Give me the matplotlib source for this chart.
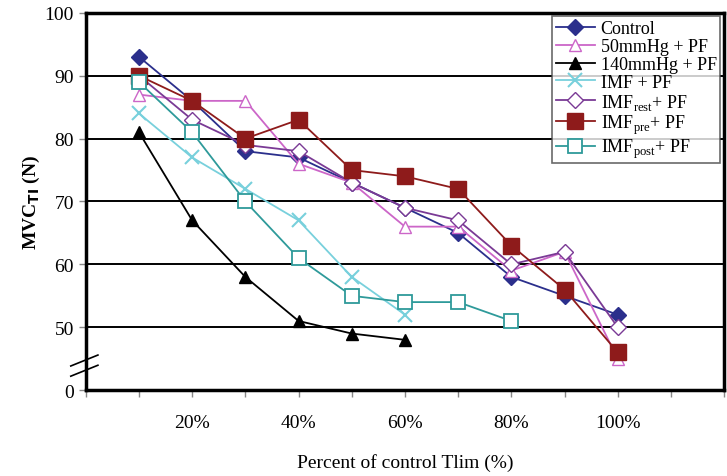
import matplotlib.pyplot as plt
import numpy as np

plt.rcParams['font.family'] = ['Liberation Serif', 'DejaVu Serif']
plt.rcParams['mathtext.fontset'] = 'custom'
plt.rcParams['mathtext.rm'] = 'Liberation Serif'

# percent of control Tlim, as category index (1 -> 10%)
pct = [1, 2, 3, 4, 5, 6, 7, 8, 9, 10]

control = [93, 86, 78, 77, 73, 69, 65, 58, 55, 52]
mmhg50 = [87, 86, 86, 76, 73, 66, 66, 59, 62, 45]
mmhg140 = [81, 67, 58, 51, 49, 48]
imf = [84, 77, 72, 67, 58, 52]
imf_rest = [90, 83, 79, 78, 73, 69, 67, 60, 62, 50]
imf_pre = [90, 86, 80, 83, 75, 74, 72, 63, 56, 46]
imf_post = [89, 81, 70, 61, 55, 54, 54, 51]

xtick_labels = ['20%', '40%', '60%', '80%', '100%']
ytick_labels = ['0', '50', '60', '70', '80', '90', '100']

fig = plt.figure(figsize=(7.27, 4.77), dpi=100)
ax = fig.add_axes([0.118, 0.18, 0.878, 0.791])

for v in [50, 60, 70, 80, 90]:
    ax.axhline(v, color='black', lw=1.4, zorder=1)

ax.plot(pct, control, '-D', color='#2B2F8C', mfc='#2B2F8C', ms=8, lw=1.3, label='Control')
ax.plot(pct, mmhg50, '-^', color='#CC66C8', mfc='white', ms=9, lw=1.3, label='50mmHg + PF')
ax.plot(pct[:len(mmhg140)], mmhg140, '-^', color='black', mfc='black', ms=9, lw=1.3,
        label='140mmHg + PF')
ax.plot(pct[:len(imf)], imf, '-x', color='#78D0DC', ms=10, mew=1.5, lw=1.3, label='IMF + PF')
ax.plot(pct, imf_rest, '-D', color='#7A3A95', mfc='white', ms=8, lw=1.3,
        label=r'IMF$_{\rm rest}$+ PF')
ax.plot(pct, imf_pre, '-s', color='#8E1B1B', mfc='#8E1B1B', ms=11, lw=1.3,
        label=r'IMF$_{\rm pre}$+ PF')
ax.plot(pct[:len(imf_post)], imf_post, '-s', color='#2E9A9A', mfc='white', ms=10, mew=1.3,
        lw=1.3, label=r'IMF$_{\rm post}$+ PF')

ax.set_xlim(0, 12)
ax.set_ylim(40, 100)
ax.set_xticks(range(0, 13))
ax.set_xticklabels(['', '', xtick_labels[0], '', xtick_labels[1], '', xtick_labels[2], '',
                    xtick_labels[3], '', xtick_labels[4], '', ''])
ax.set_yticks([40, 50, 60, 70, 80, 90, 100])
ax.set_yticklabels(ytick_labels)
ax.tick_params(axis='x', length=5, width=1, color='#888888', labelsize=14, pad=12)
ax.tick_params(axis='y', length=5, width=1, color='#888888', labelsize=14)

for s in ax.spines.values():
    s.set_linewidth(2.5)

# axis break marks on the left spine
for y0 in (0.064, 0.037):
    ax.plot([-0.0235, 0.019], [y0, y0 + 0.029], transform=ax.transAxes,
            color='black', lw=1.2, clip_on=False)

ax.set_ylabel(r'MVC$_{\mathbf{TI}}$ (N)', fontsize=14, fontweight='bold', labelpad=2)
ax.set_xlabel('Percent of control Tlim (%)', fontsize=14, labelpad=16)

leg = ax.legend(loc='upper right', fontsize=13, frameon=True, fancybox=False,
                edgecolor='#444444', borderpad=0.2, labelspacing=0.05, handlelength=2.2,
                handletextpad=0.3, borderaxespad=0.2)
leg.get_frame().set_linewidth(1.2)

fig.savefig('out.png', dpi=100)
